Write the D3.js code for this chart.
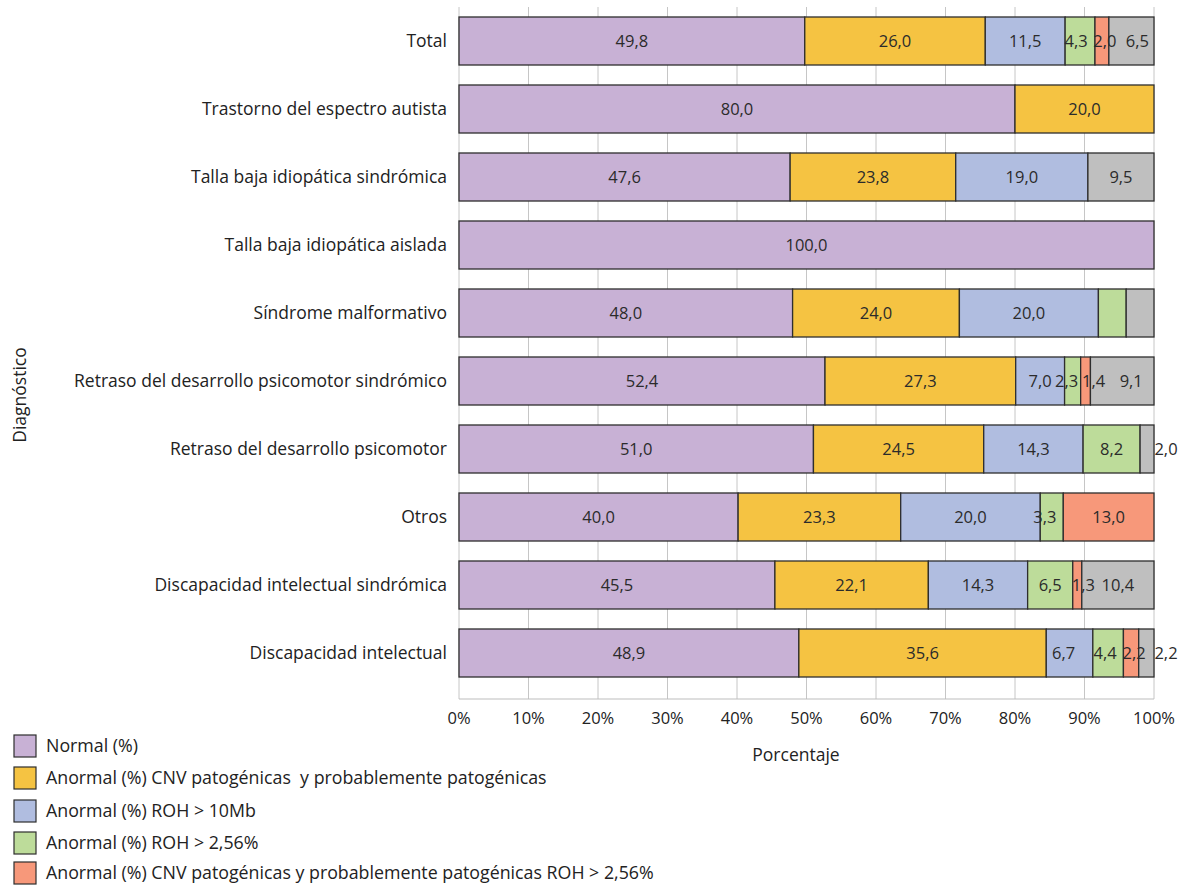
<!DOCTYPE html>
<html>
<head>
<meta charset="utf-8">
<script src="https://cdn.jsdelivr.net/npm/d3@7"></script>
<style>
  body { margin: 0; background: #fff; }
  svg { font-family: "Open Sans", Lato, sans-serif; }
</style>
</head>
<body>
<svg id="chart" width="1184" height="885"></svg>
<script>
'use strict';

// categories, top to bottom
var categories = [
  "Total",
  "Trastorno del espectro autista",
  "Talla baja idiopática sindrómica",
  "Talla baja idiopática aislada",
  "Síndrome malformativo",
  "Retraso del desarrollo psicomotor sindrómico",
  "Retraso del desarrollo psicomotor",
  "Otros",
  "Discapacidad intelectual sindrómica",
  "Discapacidad intelectual"
];

var seriesNames = [
  "Normal (%)",
  "Anormal (%) CNV patogénicas  y probablemente patogénicas",
  "Anormal (%) ROH > 10Mb",
  "Anormal (%) ROH > 2,56%",
  "Anormal (%) CNV patogénicas y probablemente patogénicas ROH > 2,56%",
  "Otro"
];

var normal   = [49.8, 80.0, 47.6, 100.0, 48.0, 52.4, 51.0, 40.0, 45.5, 48.9];
var cnv      = [26.0, 20.0, 23.8, 0, 24.0, 27.3, 24.5, 23.3, 22.1, 35.6];
var roh10    = [11.5, 0, 19.0, 0, 20.0, 7.0, 14.3, 20.0, 14.3, 6.7];
var roh256   = [4.3, 0, 0, 0, 4.0, 2.3, 8.2, 3.3, 6.5, 4.4];
var cnvRoh   = [2.0, 0, 0, 0, 0, 1.4, 0, 13.0, 1.3, 2.2];
var otro     = [6.5, 0, 9.5, 0, 4.0, 9.1, 2.0, 0, 10.4, 2.2];

// labels that Excel left off
var hideLabel = { "Síndrome malformativo": [3, 5] };
// labels nudged sideways in the original
var labelNudge = {
  "Retraso del desarrollo psicomotor sindrómico": { 3: -6, 4: 8, 5: 9 },
  "Discapacidad intelectual sindrómica": { 4: 6 },
  "Discapacidad intelectual": { 2: -6, 3: -3, 4: 3 },
  "Total": { 3: -4, 4: 3, 5: 6 },
  "Otros": { 3: -7 }
};

var xTicks = [0, 0.1, 0.2, 0.3, 0.4, 0.5, 0.6, 0.7, 0.8, 0.9, 1];

var colors = ["#c8b1d5", "#f5c342", "#b0bde0", "#bddc9a", "#f7987a", "#bfbfbf"];

var rows = categories.map(function (c, i) {
  return { cat: c, s0: normal[i], s1: cnv[i], s2: roh10[i], s3: roh256[i], s4: cnvRoh[i], s5: otro[i] };
});
var keys = ["s0", "s1", "s2", "s3", "s4", "s5"];

var stacked = d3.stack().keys(keys).offset(d3.stackOffsetExpand)(rows);

var svg = d3.select("#chart");
var plotL = 459, plotR = 1154, plotT = 7, plotB = 699;
var fs = 17.5;

var x = d3.scaleLinear().domain([0, 1]).range([plotL, plotR]);
var y = d3.scaleBand().domain(categories).range([7, 687]).paddingInner(0.294).paddingOuter(0.147);

// grid
svg.append("g").selectAll("line")
  .data(xTicks)
  .join("line")
  .attr("x1", function (d) { return x(d); })
  .attr("x2", function (d) { return x(d); })
  .attr("y1", plotT)
  .attr("y2", plotB)
  .attr("stroke", "#c6c6c6")
  .attr("stroke-width", 1);

svg.append("line")
  .attr("x1", plotL).attr("x2", plotR)
  .attr("y1", plotB).attr("y2", plotB)
  .attr("stroke", "#bdbdbd");

// bars
var layer = svg.append("g").selectAll("g")
  .data(stacked)
  .join("g")
  .attr("fill", function (d, i) { return colors[i]; });

layer.selectAll("rect")
  .data(function (d) { return d.filter(function (p) { return p[1] - p[0] > 0; }); })
  .join("rect")
  .attr("x", function (d) { return x(d[0]); })
  .attr("width", function (d) { return x(d[1]) - x(d[0]); })
  .attr("y", function (d) { return y(d.data.cat); })
  .attr("height", y.bandwidth())
  .attr("stroke", "#2e2e2e")
  .attr("stroke-width", 1.3);

// value labels
var fmt = function (v) { return v.toFixed(1).replace(".", ","); };
stacked.forEach(function (s, si) {
  s.forEach(function (p) {
    var v = p.data[s.key];
    if (!v) return;
    var h = hideLabel[p.data.cat];
    if (h && h.indexOf(si) >= 0) return;
    var cx = (x(p[0]) + x(p[1])) / 2;
    // small last segments: label pushed right of the bar
    if (si === 5 && x(p[1]) - x(p[0]) < 20) cx = x(p[1]) + 12;
    var n = labelNudge[p.data.cat];
    if (n && n[si]) cx += n[si];
    svg.append("text")
      .attr("x", cx)
      .attr("y", y(p.data.cat) + y.bandwidth() / 2)
      .attr("dy", "0.36em")
      .attr("text-anchor", "middle")
      .attr("font-size", 16.5)
      .attr("fill", "#2b2b2b")
      .text(fmt(v));
  });
});

// category labels
svg.append("g").selectAll("text")
  .data(categories)
  .join("text")
  .attr("x", 447)
  .attr("y", function (d) { return y(d) + y.bandwidth() / 2; })
  .attr("dy", "0.36em")
  .attr("text-anchor", "end")
  .attr("font-size", fs)
  .attr("fill", "#222")
  .text(function (d) { return d; });

// x tick labels
svg.append("g").selectAll("text")
  .data(xTicks)
  .join("text")
  .attr("x", function (d) { return x(d); })
  .attr("y", 718)
  .attr("dy", "0.36em")
  .attr("text-anchor", "middle")
  .attr("font-size", 16.5)
  .attr("fill", "#222")
  .text(function (d) { return Math.round(d * 100) + "%"; });

svg.append("text")
  .attr("x", 796).attr("y", 755)
  .attr("dy", "0.36em")
  .attr("text-anchor", "middle")
  .attr("font-size", fs)
  .attr("fill", "#222")
  .text("Porcentaje");

svg.append("text")
  .attr("transform", "translate(20,395) rotate(-90)")
  .attr("dy", "0.36em")
  .attr("text-anchor", "middle")
  .attr("font-size", fs)
  .attr("fill", "#222")
  .text("Diagnóstico");

// legend (only five entries fit in the picture)
var legY = [746, 778, 811, 843, 873];
var leg = svg.append("g").selectAll("g")
  .data(seriesNames.slice(0, 5))
  .join("g")
  .attr("transform", function (d, i) { return "translate(14," + legY[i] + ")"; });

leg.append("rect")
  .attr("x", 0).attr("y", -11)
  .attr("width", 22).attr("height", 22)
  .attr("fill", function (d, i) { return colors[i]; })
  .attr("stroke", "#2e2e2e")
  .attr("stroke-width", 1.2);

leg.append("text")
  .attr("x", 32)
  .attr("dy", "0.36em")
  .attr("font-size", 17.8)
  .attr("fill", "#222")
  .style("white-space", "pre")
  .text(function (d) { return d; });
</script>
</body>
</html>
